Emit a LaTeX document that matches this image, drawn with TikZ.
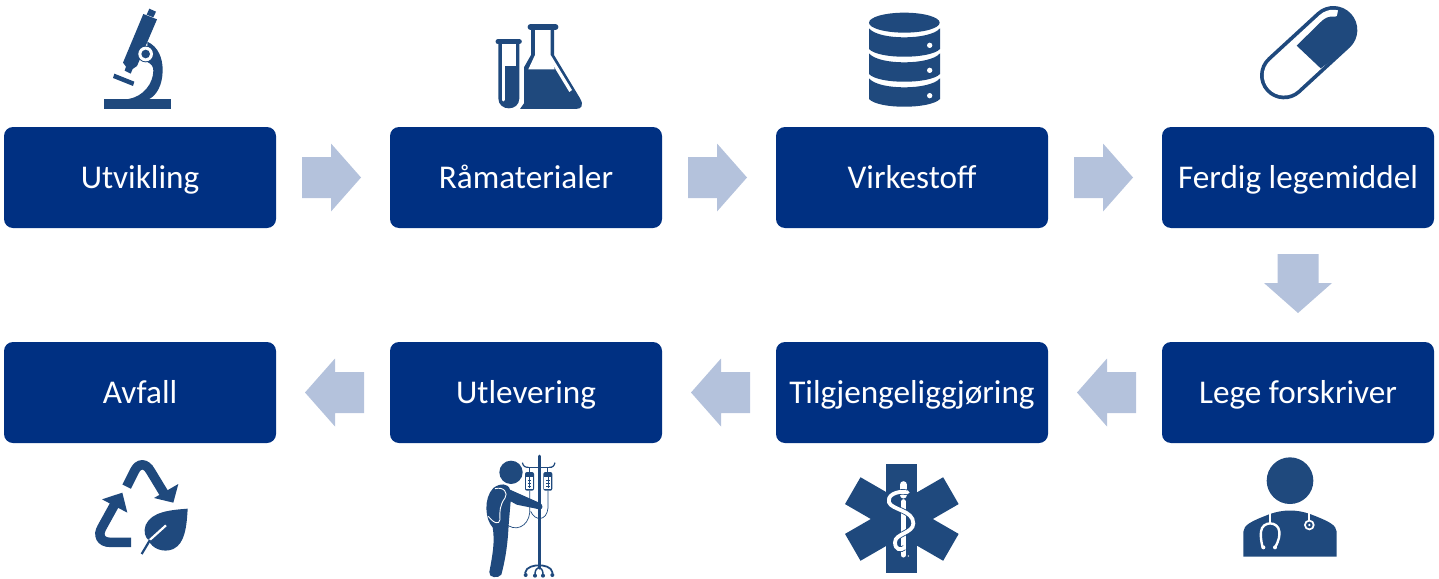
\documentclass[tikz,border=0pt]{standalone}
\usepackage{fontspec}
\setmainfont{Carlito}
\usetikzlibrary{calc}
\definecolor{boxblue}{HTML}{003082}
\definecolor{icon}{HTML}{1F497D}
\definecolor{arrowblue}{HTML}{B4C2DC}
\tikzset{
  stagebox/.style={rectangle,rounded corners=9pt,fill=boxblue,text=white,minimum width=272pt,minimum height=101pt,inner sep=0pt,font=\fontsize{33.2}{36}\selectfont,text height=22pt,text depth=0pt},
  iconscope/.style={scale=.33333,fill=icon,draw=none},
  dk/.style={draw=icon,fill=none},
  wh/.style={draw=white,fill=none}
}
\newcommand{\blockarrow}[3]{%
  \fill[arrowblue,shift={($(#1)!.5!(#2)$)},rotate=#3] (-31,-20.5)--(-2,-20.5)--(-2,-34)--(28,0)--(-2,34)--(-2,20.5)--(-31,20.5)--cycle;}
\begin{document}
\begin{tikzpicture}[x=1pt,y=-1pt]
\useasboundingbox (0,0) rectangle (1439,578);
\node[stagebox] (a) at (140,177.5) {Utvikling};
\node[stagebox] (b) at (526,177.5) {Råmaterialer};
\node[stagebox] (c) at (912,177.5) {Virkestoff};
\node[stagebox] (d) at (1298,177.5) {Ferdig legemiddel};
\node[stagebox] (e) at (1298,392.5) {Lege forskriver};
\node[stagebox] (f) at (912,392.5) {Tilgjengeliggjøring};
\node[stagebox] (g) at (526,392.5) {Utlevering};
\node[stagebox] (h) at (140,392.5) {Avfall};
\blockarrow{a}{b}{0}
\blockarrow{b}{c}{0}
\blockarrow{c}{d}{0}
\blockarrow{d}{e}{-90}
\blockarrow{e}{f}{180}
\blockarrow{f}{g}{180}
\blockarrow{g}{h}{180}

% microscope
\begin{scope}[shift={(90,0)},iconscope]
\fill[icon] (42,297) rectangle (243,326);
\fill[icon] (178,26)--(198,35)--(190,52)--(170,44)--cycle;
\fill[icon] (160,42)--(201,58)--(141,198)--(128,207)--(122,221)--(104,212)--(108,200)--(99,188)--cycle;
\fill[icon] (172,125) .. controls (205,140) and (218,175) .. (218,210) .. controls (218,255) and (200,285) .. (178,297) -- (115,297) .. controls (160,290) and (190,250) .. (190,212) .. controls (190,200) and (185,192) .. (172,186) -- cycle;
\fill[icon] (167,162) circle (25);
\fill[white] (167,162) circle (22);
\fill[icon] (167,162) circle (13);
\fill[icon] (73,221)--(133,245)--(129,258)--(69,234)--cycle;
\end{scope}

% flasks
\begin{scope}[shift={(480,10)},iconscope]
\fill[icon] (55,100) -- (118,100) -- (118,265) .. controls (118,305) and (55,305) .. (55,265) -- cycle;
\fill[white] (65,103) rectangle (108,168);
\draw[wh,line width=3pt,line cap=round] (69.5,165) -- (69.5,270);
\draw[dk,line width=5pt,line cap=round] (54,95) -- (118,95);
\fill[icon] (153,55) -- (222,55) -- (222,135) -- (300,265) .. controls (312,285) and (305,297) .. (288,297) -- (120,297) -- (132,280) -- (132,172) -- (153,135) -- cycle;
\fill[white] (165,58) -- (212,58) -- (212,135) -- (224,178) -- (145,178) -- (165,135) -- cycle;
\fill[white] (212,135) -- (276,240) -- (268,246) -- (216,160) -- cycle;
\draw[dk,line width=5.5pt,line cap=round] (151,51) -- (227,51);
\end{scope}

% database
\begin{scope}[shift={(850,0)},iconscope]
\fill[icon] (163,68) ellipse (106 and 30);
\foreach \t in {0,75,150}{
  \fill[icon,yshift=-\t*1pt] (57,85) .. controls (85,121) and (240,121) .. (270,85) -- (270,147) .. controls (240,178) and (85,178) .. (57,147) -- cycle;
}
\foreach \t in {136,211,287}{\fill[white] (239,\t) circle (8);}
\end{scope}

% capsule
\begin{scope}[shift={(1240,0)},iconscope]
\coordinate (c1) at (132,226);
\coordinate (c2) at (280,90);
\draw[dk,line width=48pt,line cap=round] (c1) -- (c2);
\draw[wh,line width=40.5pt,line cap=round] (c1) -- (c2);
\fill[icon] (170,137) -- (242,205) -- (330,140) .. controls (360,110) and (355,60) .. (320,35) -- (295,28) -- (292,42) .. controls (294,48) and (290,50) .. (285,50) .. controls (265,48) and (255,53) .. (240,68) -- cycle;
\end{scope}

% recycle + leaf
\begin{scope}[shift={(80,450)},iconscope]
\draw[dk,line width=9.5pt] (140,110) -- (163,64) .. controls (175,38) and (198,38) .. (212,64) -- (255,135);
\fill[icon] (222,144) -- (295,102) -- (280,158) -- cycle;
\draw[dk,line width=9.5pt] (153,277) -- (90,277) .. controls (62,277) and (52,255) .. (66,232) -- (103,165);
\fill[icon] (66,148) -- (127,128) -- (142,188) -- cycle;
\fill[icon] (323,176) .. controls (270,180) and (215,185) .. (197,225) .. controls (190,245) and (195,262) .. (207,272) .. controls (215,295) and (250,310) .. (280,297) .. controls (315,280) and (320,230) .. (323,176) -- cycle;
\draw[wh,line width=2.2pt] (207,272) -- (258,226);
\draw[dk,line width=2.2pt] (185,312) -- (210,270);
\end{scope}

% patient with IV pole
\begin{scope}[shift={(460,448)},iconscope]
\fill[icon] (153,73) circle (35);
\fill[icon] (100,120) .. controls (120,105) and (145,105) .. (150,125) -- (240,165) .. controls (250,170) and (250,185) .. (238,184) -- (170,170) -- (152,160) -- (146,230) .. controls (144,270) and (140,320) .. (124,380) .. controls (115,392) and (85,390) .. (88,372) .. controls (98,320) and (105,280) .. (98,238) .. controls (75,215) and (70,150) .. (100,120) -- cycle;
\draw[wh,line width=.9pt] (105,122) .. controls (132,115) and (145,135) .. (135,150) .. controls (120,170) and (118,190) .. (120,215) .. controls (118,232) and (100,225) .. (85,205);
\draw[dk,line width=3pt,line cap=round] (237,24) -- (237,360);
\draw[dk,line width=1.2pt] (200,58) -- (276,58);
\draw[dk,line width=1.2pt] (187,44) .. controls (190,55) and (195,58) .. (205,58);
\draw[dk,line width=1.2pt] (285,44) .. controls (282,55) and (278,58) .. (268,58);
\draw[dk,line width=1.8pt] (195,375) .. controls (198,355) and (225,352) .. (237,352) .. controls (250,352) and (275,355) .. (278,375);
\draw[dk,line width=1.5pt] (225,378) .. controls (225,365) and (232,360) .. (237,358) .. controls (242,360) and (249,365) .. (249,378);
\foreach \x/\y in {197/381,225/383,249/383,277/381}{\fill[icon] (\x,\y) circle (6);}
\foreach \x in {195,250}{
  \fill[icon,rounded corners=2pt] (\x,72) rectangle ++(27,56);
  \fill[white] (\x+3,88) rectangle ++(21,36);
  \draw[dk,line width=.6pt] (\x+13.5,88) -- ++(0,32) (\x+8,98) -- ++(11,0) (\x+8,106) -- ++(11,0) (\x+8,114) -- ++(11,0);
  \draw[dk,line width=.8pt] (\x+13.5,60) -- ++(0,12);
}
\draw[dk,line width=.7pt] (209,128) -- (209,195) .. controls (205,235) and (165,255) .. (135,225);
\draw[dk,line width=.7pt] (264,128) -- (264,180) .. controls (260,220) and (225,220) .. (212,190);
\end{scope}

% star of life
\begin{scope}[shift={(835,455)},iconscope]
\fill[icon] (154,28) rectangle (247,355);
\foreach \a in {60,120}{
  \fill[icon,rotate around={\a:(200.5,192)}] (154,22) rectangle (247,362);
}
\draw[wh,line width=7pt,line cap=round] (205,89) -- (205,120);
\draw[wh,line width=5pt,line cap=round] (205,140) -- (205,300);
\draw[dk,line width=5.5pt] (218,112) .. controls (180,105) and (155,125) .. (162,142) .. controls (170,165) and (235,165) .. (235,205) .. controls (235,235) and (180,235) .. (180,262) .. controls (180,285) and (198,287) .. (208,278);
\draw[wh,line width=3.8pt,line cap=round] (218,112) .. controls (180,105) and (155,125) .. (162,142) .. controls (170,165) and (235,165) .. (235,205) .. controls (235,235) and (180,235) .. (180,262) .. controls (180,285) and (198,287) .. (208,278);
\fill[white] (220,303) circle (2);
\end{scope}

% doctor
\begin{scope}[shift={(1230,450)},iconscope]
\fill[icon] (180,92) circle (70);
\fill[icon] (40,320) -- (40,245) .. controls (42,225) and (60,215) .. (120,192) .. controls (160,178) and (200,178) .. (240,192) .. controls (300,215) and (318,225) .. (320,245) -- (320,320) -- cycle;
\draw[wh,line width=1.8pt] (120,188) -- (120,220);
\draw[wh,line width=2.4pt] (98,292) .. controls (92,270) and (92,255) .. (93,245) .. controls (96,212) and (145,212) .. (148,245) .. controls (149,255) and (148,270) .. (135,292);
\fill[white] (100,292) circle (6);
\fill[white] (135,292) circle (6);
\draw[wh,line width=1.8pt] (238,188) -- (238,212);
\fill[white] (238,225) circle (16);
\fill[icon] (238,225) circle (10);
\fill[white] (238,225) circle (4);
\end{scope}
\end{tikzpicture}
\end{document}
